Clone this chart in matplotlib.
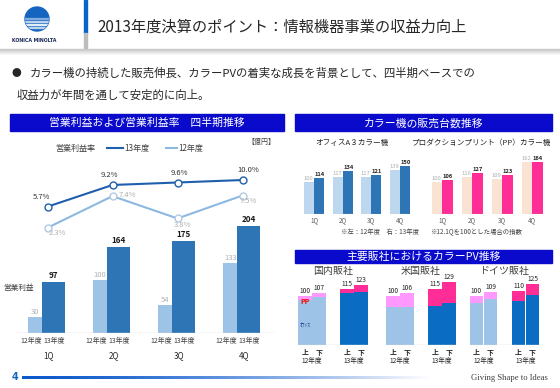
import matplotlib
matplotlib.use("Agg")
import matplotlib.pyplot as plt
import numpy as np
from matplotlib.patches import Rectangle, Circle

plt.rcParams['font.family'] = ['Noto Sans CJK JP', 'DejaVu Sans']

W, H = 560, 388

# ---- data ----
quarters = ['1Q', '2Q', '3Q', '4Q']
profit_fy12 = [30, 100, 54, 133]
profit_fy13 = [97, 164, 175, 204]
margin_fy12 = [2.3, 7.4, 3.8, 7.5]
margin_fy13 = [5.7, 9.2, 9.6, 10.0]

office_fy12 = [100, 117, 117, 139]
office_fy13 = [114, 134, 121, 150]
pp_fy12 = [100, 116, 109, 162]
pp_fy13 = [106, 127, 123, 164]

subsidiaries = ['国内販社', '米国販社', 'ドイツ販社']
halves = ['上', '下', '上', '下']
pv_total = [[100, 107, 115, 123], [100, 106, 115, 129], [100, 109, 110, 125]]
pv_office = [[92, 98, 106, 109], [77, 78, 80, 86], [86, 93, 90, 103]]

# ---- colours ----
LIGHT_BLUE = '#9DC3E6'
DARK_BLUE = '#2E75B6'
BOX_BLUE = '#0A0ACD'
PEACH = '#FBE3D3'
PINK = '#FF2D96'
LILAC = '#FF99FF'
PV_BLUE = '#0A6CC2'
GREY_TXT = '#B0B0B0'

fig = plt.figure(figsize=(W / 100, H / 100), dpi=100)
bg = fig.add_axes([0, 0, 1, 1])
bg.set_xlim(0, W)
bg.set_ylim(H, 0)
bg.axis('off')


def px_axes(x0, y0, x1, y1):
    ax = fig.add_axes([x0 / W, 1 - y1 / H, (x1 - x0) / W, (y1 - y0) / H])
    ax.patch.set_alpha(0)
    for s in ax.spines.values():
        s.set_visible(False)
    ax.set_xticks([])
    ax.set_yticks([])
    return ax


def title_box(x0, y0, x1, y1, text):
    bg.add_patch(Rectangle((x0, y0), x1 - x0, y1 - y0, color=BOX_BLUE))
    bg.text((x0 + x1) / 2, (y0 + y1) / 2 + 0.5, text, color='white',
            fontsize=7.8, ha='center', va='center')


# ---- header ----
for i, g in enumerate(np.linspace(0.78, 1.0, 7)):
    bg.plot([0, W], [49 + i, 49 + i], color=str(g), lw=1)
logo = Circle((37, 19), 12, color='#1565C0')
bg.add_patch(logo)
for yy, a in [(18, 0.35), (21, 0.6), (24, 0.8), (27, 0.6)]:
    r = Rectangle((20, yy), 34, 1.3, color='white', alpha=a)
    bg.add_patch(r)
    r.set_clip_path(logo)
bg.text(34, 40, 'KONICA MINOLTA', fontsize=3.4, fontweight='bold',
        color='#1A2A5A', ha='center', va='center', family='DejaVu Sans')
bg.add_patch(Rectangle((83.5, 0), 3, 33, color='#0A64C8'))
bg.add_patch(Rectangle((83.5, 33), 3, 17, color='#BDBDBD'))
bg.text(97, 27, '2013年度決算のポイント：情報機器事業の収益力向上',
        fontsize=11, color='#262626', va='center')

bg.text(12, 73, '●', fontsize=7, color='#262626', va='center')
bg.text(30, 73, 'カラー機の持続した販売伸長、カラーPVの着実な成長を背景として、四半期ベースでの',
        fontsize=8.2, color='#262626', va='center')
bg.text(17, 95, '収益力が年間を通して安定的に向上。',
        fontsize=8.2, color='#262626', va='center')

# ---- left: operating profit ----
title_box(10, 114, 284, 131, '営業利益および営業利益率　四半期推移')
bg.text(55, 148, '営業利益率', fontsize=5.8, color='#404040', va='center')
bg.plot([107, 123], [148, 148], color='#1F5FAD', lw=1.5)
bg.text(124, 148, '13年度', fontsize=5.8, color='#404040', va='center')
bg.plot([166, 177], [148, 148], color='#8DB8E2', lw=1.5)
bg.text(178, 148, '12年度', fontsize=5.8, color='#404040', va='center')
bg.text(247, 142, '【億円】', fontsize=5, color='#404040', va='center')

ax = px_axes(15, 160, 275, 333)
x = np.arange(len(quarters))
ax.set_xlim(-0.5, 3.5)
ax.set_ylim(0, 173 / 0.526)
ax.bar(x - 0.123, profit_fy12, 0.354, color=LIGHT_BLUE)
ax.bar(x + 0.092, profit_fy13, 0.354, color=DARK_BLUE)
ax.axhline(0, color='#D9D9D9', lw=1)
for i in range(4):
    ax.text(x[i] + 0.092, profit_fy13[i] + 3, str(profit_fy13[i]), fontsize=5.8,
            fontweight='bold', ha='center', va='bottom', color='#1A1A1A')
    ax.text(x[i] - 0.19, profit_fy12[i] + 2, str(profit_fy12[i]), fontsize=5.5,
            ha='center', va='bottom', color=GREY_TXT)
    ax.text(x[i] - 0.25, -15, '12年度', fontsize=5, ha='center', va='center',
            color='#404040')
    ax.text(x[i] + 0.10, -15, '13年度', fontsize=5, ha='center', va='center',
            color='#404040')
    ax.text(x[i] + 0.02, -44, quarters[i], fontsize=5.8, ha='center',
            va='center', color='#262626')
ax.text(-0.68, 85, '営業利益', fontsize=5.5, ha='left', va='center',
        color='#404040', clip_on=False)

ax2 = ax.twinx()
for s in ax2.spines.values():
    s.set_visible(False)
ax2.set_yticks([])
ax2.set_ylim(-14.68, 13.23)
ax2.plot(x, margin_fy12, color='#8DB8E2', lw=1.5, marker='o', ms=5,
         mfc='white', mec='#B0C8E0', mew=1)
ax2.plot(x, margin_fy13, color='#1F5FAD', lw=1.5, marker='o', ms=5,
         mfc='white', mec='#1F5FAD', mew=1)
off13 = [(-4, 7), (-2, 7), (1, 7), (4, 7)]
off12 = [(7, -4), (11, 1), (4, -5), (4, -4)]
for i in range(4):
    ax2.annotate(f'{margin_fy13[i]:.1f}%', (x[i], margin_fy13[i]), xytext=off13[i],
                 textcoords='offset points', fontsize=5.5, ha='center',
                 va='center', color='#333333')
    ax2.annotate(f'{margin_fy12[i]:.1f}%', (x[i], margin_fy12[i]), xytext=off12[i],
                 textcoords='offset points', fontsize=5.5, ha='center',
                 va='center', color=GREY_TXT)

# ---- right top: colour unit sales ----
title_box(295, 114, 552, 131, 'カラー機の販売台数推移')
bg.text(352, 143, 'オフィスA３カラー機', fontsize=5.5, ha='center', va='center',
        color='#262626')
bg.text(481, 143, 'プロダクションプリント（PP）カラー機', fontsize=5.5,
        ha='center', va='center', color='#262626')


def unit_chart(x0, x1, v12, v13, c12, c13):
    a = px_axes(x0, 150, x1, 214)
    a.set_xlim(-0.5, 3.5)
    a.set_ylim(0, 200)
    a.bar(x - 0.175, v12, 0.35, color=c12)
    a.bar(x + 0.175, v13, 0.35, color=c13)
    a.axhline(0, color='#E6E6E6', lw=0.8)
    for i in range(4):
        a.text(x[i] - 0.2, v12[i] + 3, str(v12[i]), fontsize=4.2, ha='center',
               va='bottom', color=GREY_TXT)
        a.text(x[i] + 0.2, v13[i] + 3, str(v13[i]), fontsize=4.2, ha='center',
               va='bottom', color='#262626', fontweight='bold')
        a.text(x[i], -19, quarters[i], fontsize=4.5, ha='center', va='center',
               color='#595959')
    return a


unit_chart(300, 414, office_fy12, office_fy13, '#BDD7EE', DARK_BLUE)
unit_chart(427, 547, pp_fy12, pp_fy13, PEACH, PINK)
bg.text(341, 232, '※左：12年度　右：13年度', fontsize=4.6, va='center',
        color='#404040')
bg.text(430, 232, '※12.1Qを100とした場合の指数', fontsize=4.6, va='center',
        color='#404040')

# ---- right bottom: colour PV ----
title_box(295, 250, 552, 263, '主要販社におけるカラーPV推移')
starts = [298, 386, 469.5]
pos = np.array([0, 1, 3, 4])
for k in range(3):
    a = px_axes(starts[k], 275, starts[k] + 70, 345)
    a.set_xlim(-0.5, 4.5)
    a.set_ylim(0, 70 / 0.49)
    office = np.array(pv_office[k])
    pp = np.array(pv_total[k]) - office
    a.bar(pos[:2], office[:2], 0.93, color=LIGHT_BLUE)
    a.bar(pos[:2], pp[:2], 0.93, bottom=office[:2], color=LILAC)
    a.bar(pos[2:], office[2:], 0.93, color=PV_BLUE)
    a.bar(pos[2:], pp[2:], 0.93, bottom=office[2:], color=PINK)
    a.axhline(0, color='#D9D9D9', lw=1)
    for j in range(4):
        a.text(pos[j], pv_total[k][j] + 2, str(pv_total[k][j]), fontsize=4.8,
               ha='center', va='bottom', color='#262626')
        a.text(pos[j], -15, halves[j], fontsize=5, ha='center', va='center',
               color='#262626', fontweight='bold')
    a.text(0.5, -33, '12年度', fontsize=4.8, ha='center', va='center',
           color='#262626')
    a.text(3.5, -33, '13年度', fontsize=4.8, ha='center', va='center',
           color='#262626')
    bg.text(starts[k] + 35, 271, subsidiaries[k], fontsize=7.2, ha='center',
            va='center', color='#404040')
    if k == 0:
        a.text(-0.35, 88, 'PP', fontsize=5, color='#FF0000', fontweight='bold',
               ha='left', va='center')
        a.text(-0.35, 38, 'ｵﾌｨｽ', fontsize=4, color='#1F3F8F', style='italic',
               ha='left', va='center')

# ---- footer ----
t = np.linspace(0, 1, 400) ** 1.5
grad = np.zeros((1, 400, 4))
grad[0, :, 0] = 0.05 + 0.95 * t
grad[0, :, 1] = 0.35 + 0.65 * t
grad[0, :, 2] = 0.8 + 0.2 * t
grad[0, :, 3] = 1.0
bg.imshow(grad, extent=(22, 430, 379.2, 376.8), aspect='auto', zorder=1)
bg.set_xlim(0, W)
bg.set_ylim(H, 0)
bg.text(12, 377, '4', fontsize=7, color='#1565C0', va='center', fontweight='bold',
        family='DejaVu Sans')
bg.text(548, 378, 'Giving Shape to Ideas', fontsize=6.2, ha='right',
        va='center', color='#404040', family='Liberation Serif')

fig.savefig('out.png', dpi=100)
